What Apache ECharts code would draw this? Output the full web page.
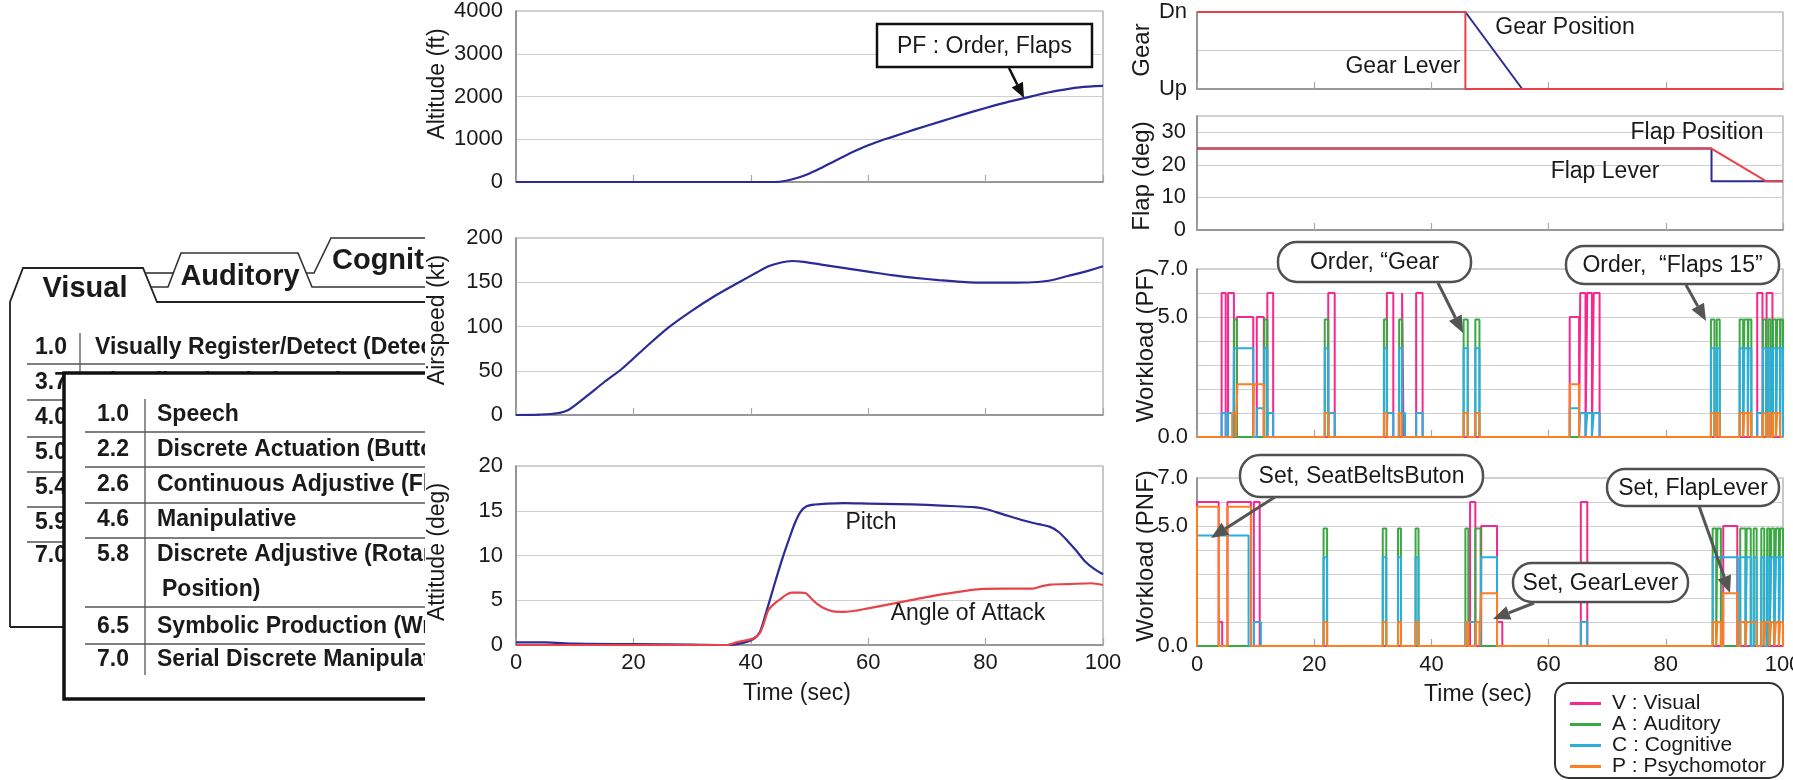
<!DOCTYPE html>
<html><head><meta charset="utf-8">
<script src="https://cdn.jsdelivr.net/npm/echarts@6/dist/echarts.min.js"></script>
<style>html,body{margin:0;padding:0;background:#fff}#c{width:1793px;height:780px}</style>
</head><body><div id="c"></div>
<script>
// ---------- data ----------
const altTime  = [0, 20, 40, 44, 46, 48, 50, 52, 54, 56, 58, 60, 62, 64, 68, 72, 76, 80, 84, 88, 92, 96, 100];
const altValue = [0, 0, 0, 0, 30, 100, 200, 330, 470, 610, 740, 860, 960, 1050, 1230, 1400, 1570, 1730, 1880, 2010, 2130, 2215, 2250];

const spdTime  = [0, 4, 7, 9, 12, 15, 18, 22, 26, 30, 34, 38, 41, 43, 45, 47, 49, 52, 56, 60, 64, 68, 72, 76, 80, 84, 88, 91, 94, 97, 100];
const spdValue = [0, 0.5, 2, 6, 21, 37, 52, 76, 99, 118, 135, 150, 161, 168, 172, 174, 173, 170, 166, 162, 158, 155, 152.5, 150.5, 149.5, 149.5, 150, 152, 157, 162, 168];

const pitchTime  = [0, 5, 10, 20, 30, 36, 39, 40.5, 41.5, 42.5, 43.5, 44.5, 45.5, 46.5, 47.5, 48.5, 49.5, 51, 53, 56, 60, 65, 70, 75, 78, 80, 83, 86, 89, 91, 92.5, 94, 95.5, 97, 98.5, 100];
const pitchValue = [0.3, 0.3, 0.15, 0.1, 0.05, 0, 0.3, 0.7, 1.4, 3.4, 5.6, 7.8, 9.9, 11.8, 13.6, 14.9, 15.5, 15.7, 15.8, 15.85, 15.8, 15.75, 15.65, 15.5, 15.4, 15.2, 14.6, 14.0, 13.5, 13.2, 12.6, 11.6, 10.5, 9.3, 8.5, 7.9];

const aoaTime  = [0, 10, 20, 30, 36, 37.5, 39, 40.5, 41.5, 42.2, 43, 44, 45, 46, 47, 48.5, 49.3, 50.3, 51.3, 52.5, 54, 56, 58, 60, 64, 68, 72, 76, 79, 83, 88, 89.5, 91, 94, 98, 100];
const aoaValue = [0, 0, 0, 0, 0, 0.3, 0.5, 0.75, 1.3, 2.4, 3.9, 4.6, 5.1, 5.6, 5.85, 5.85, 5.8, 5.2, 4.6, 4.1, 3.75, 3.7, 3.85, 4.1, 4.6, 5.1, 5.6, 6.0, 6.25, 6.3, 6.3, 6.55, 6.75, 6.8, 6.9, 6.7];

const gearLeverTime = [0, 45.8, 45.8, 100];  const gearLeverValue = [1, 1, 0, 0];
const gearPosTime   = [0, 45.8, 55.5, 100];  const gearPosValue   = [1, 1, 0, 0];
const flapLeverTime = [0, 87.8, 87.8, 100];  const flapLeverValue = [25, 25, 15, 15];
const flapPosTime   = [0, 87.8, 97.1, 100];  const flapPosValue   = [25, 25, 15, 15];

// workload pulses: [start, end, level]
const pfVisual = [[4.2,4.9,6],[5.3,6.3,6],[6.8,9.6,5],[10.2,11.4,5],[12.0,13.0,6],[22.4,23.5,6],[32.4,33.5,6],[35.0,35.25,6],[37.4,38.5,6],[63.6,65.2,5],[65.4,66.3,6],[66.6,67.4,6],[67.7,68.7,6],[95.6,96.5,6],[97.2,98.2,6]];
const pfAuditory = [[6.3,6.8,4.9],[11.5,12.0,4.9],[21.8,22.4,4.9],[31.9,32.4,4.9],[34.5,35.0,4.9],[45.5,46.2,4.9],[47.5,48.2,4.9],[87.7,88.3,4.9],[88.7,89.2,4.9],[92.6,93.2,4.9],[93.4,94.0,4.9],[94.1,94.6,4.9],[96.6,97.1,4.9],[97.5,97.9,4.9],[98.3,98.8,4.9],[99.0,99.5,4.9],[99.6,100,4.9]];
const pfCognitive = [[4.2,4.9,1],[5.3,6.2,1],[6.3,9.6,3.7],[10.2,11.4,1.2],[11.5,12.0,3.7],[12.1,13.0,1],[21.8,22.4,3.7],[22.5,23.5,1],[31.9,32.4,3.7],[32.5,33.5,1],[34.5,35.0,3.7],[35.1,35.5,1],[37.4,38.5,1],[45.5,46.2,3.7],[47.5,48.2,3.7],[63.6,65.2,1.2],[65.4,66.3,1],[66.6,67.4,1],[67.7,68.7,1],[87.7,88.3,3.7],[88.7,89.2,3.7],[92.6,93.2,3.7],[93.4,94.0,3.7],[94.1,94.6,3.7],[95.6,96.5,1],[96.6,97.1,3.7],[97.5,97.9,3.7],[98.3,98.8,3.7],[99.0,99.5,3.7],[99.6,100,3.7]];
const pfPsychomotor = [[6.0,6.6,1],[6.9,9.6,2.2],[9.7,11.4,2.2],[21.8,22.4,1],[31.9,32.4,1],[34.4,34.9,1],[45.5,46.2,1],[47.5,48.2,1],[63.6,65.2,2.2],[87.7,88.3,1],[88.7,89.2,1],[92.6,93.2,1],[93.4,94.0,1],[94.1,94.6,1],[96.6,97.1,1],[97.5,97.9,1],[98.3,98.8,1],[99.0,99.5,1]];

const pnfVisual = [[0,3.7,6],[3.7,4.3,1],[5.2,9.2,6],[9.7,10.7,6],[46.6,47.5,6],[48.5,51.2,5],[51.2,52.1,1],[65.5,66.6,6],[89.8,92.2,5]];
const pnfAuditory = [[21.6,22.2,4.9],[31.7,32.3,4.9],[34.3,34.8,4.9],[37.3,37.8,4.9],[45.8,46.3,4.9],[47.5,48.4,4.9],[88.0,88.6,4.9],[88.8,89.4,4.9],[92.7,93.6,4.9],[93.8,94.5,4.9],[95.0,95.5,4.9],[96.3,96.8,4.9],[97.3,97.7,4.9],[98.0,98.5,4.9],[98.8,99.3,4.9],[99.5,100,4.9]];
const pnfCognitive = [[0,8.8,4.6],[9.7,10.9,1],[21.6,22.2,3.7],[31.7,32.3,3.7],[34.3,34.8,3.7],[37.3,37.8,3.7],[45.8,48.4,1],[48.5,51.2,3.7],[65.5,66.6,1],[88.0,92.3,3.7],[92.7,93.6,3.7],[93.8,94.5,3.7],[95.0,95.5,3.7],[96.3,96.8,3.7],[97.3,97.7,3.7],[98.0,98.5,3.7],[98.8,99.3,3.7],[99.5,100,3.7]];
const pnfPsychomotor = [[0,3.7,5.8],[5.2,9.2,5.8],[21.6,22.2,1],[31.7,32.3,1],[34.3,34.8,1],[37.3,37.8,1],[45.9,46.3,1],[47.6,48.2,1],[48.5,51.2,2.2],[88.0,88.6,1],[88.8,89.4,1],[89.8,92.2,2.2],[92.7,93.6,1],[93.8,95.5,1],[96.3,96.8,1],[97.0,97.7,1],[98.0,98.5,1],[98.8,99.3,1],[99.5,100,1]];

const channelNames = ['V : Visual', 'A : Auditory', 'C : Cognitive', 'P : Psychomotor'];
const timeTicks = [0, 20, 40, 60, 80, 100];

const visualScale = [['1.0','Visually Register/Detect (Detect Occurrence of Image)'],['3.7','Visually Discriminate (Detect Visual Differences)'],['4.0','Visually Inspect/Check (Discrete Inspection)'],['5.0','Visually Locate/Align (Selective Orientation)'],['5.4','Visually Track/Follow (Maintain Orientation)'],['5.9','Visually Read (Symbol)'],['7.0','Visually Scan/Search/Monitor (Continuous Inspection)']];
const psychoScale = [['1.0','Speech'],['2.2','Discrete Actuation (Button, Toggle, Trigger)'],['2.6','Continuous Adjustive (Flight Control, Sensor Control)'],['4.6','Manipulative'],['5.8','Discrete Adjustive (Rotary, Vertical Thumbwheel, Lever'],['','Position)'],['6.5','Symbolic Production (Writing)'],['7.0','Serial Discrete Manipulation (Keyboard Entries)']];

// ---------- helpers ----------
const FONT = '"Liberation Sans", Arial, Helvetica, sans-serif';
const BLUE = '#2b2b98', RED = '#e8424b';
const CHAN = ['#f4288e', '#3aa843', '#2aaee0', '#fd7f23'];
const TXT = '#1a1a1a';
function zip(t, v) { return t.map((x, i) => [x, v[i]]); }
function pulses(list) {
  const pts = [[0, 0]];
  list.forEach(([s, e, v]) => { pts.push([s, 0], [s, v], [e, v], [e, 0]); });
  pts.push([100, 0]);
  return pts;
}

const grids = [
  {left: 516, top: 11, width: 587, height: 171},
  {left: 516, top: 238, width: 587, height: 177},
  {left: 516, top: 466, width: 587, height: 179},
  {left: 1197, top: 12, width: 586, height: 77},
  {left: 1197, top: 116, width: 586, height: 114},
  {left: 1197, top: 269, width: 586, height: 168},
  {left: 1197, top: 478, width: 586, height: 168}
].map(g => Object.assign({show: true, borderColor: '#a3a3a3', borderWidth: 1.2, backgroundColor: 'transparent', containLabel: false, outerBoundsMode: 'none'}, g));

function xAx(gi, showLabel, margin) {
  return {type: 'value', gridIndex: gi, min: 0, max: 100, interval: 20,
    axisLine: {show: true, onZero: false, lineStyle: {color: '#858585', width: 1.5}},
    axisTick: {show: true, inside: true, length: 7, lineStyle: {color: '#a8a8a8', width: 1.2}},
    axisLabel: {show: showLabel, fontSize: 22, color: TXT, fontFamily: FONT, margin: margin || 7,
      formatter: v => timeTicks.includes(v) ? String(v) : ''},
    splitLine: {show: false}};
}
function yAx(gi, min, max, interval, fmt, margin) {
  return {type: 'value', gridIndex: gi, min, max, interval,
    axisLine: {show: true, lineStyle: {color: '#858585', width: 1.5}},
    axisTick: {show: false},
    axisLabel: {fontSize: 22, color: TXT, fontFamily: FONT, margin, formatter: fmt},
    splitLine: {show: true, lineStyle: {color: '#cfcfcf', width: 1.2}}};
}

function line(name, xi, data, color, w, smooth) {
  return {type: 'line', name, xAxisIndex: xi, yAxisIndex: xi, data, showSymbol: false, symbol: 'none',
    smooth: smooth ? 0.3 : false, color,
    lineStyle: {color, width: w}, animation: false, silent: true};
}

const series = [
  line('Altitude', 0, zip(altTime, altValue), BLUE, 2.2, true),
  line('Airspeed', 1, zip(spdTime, spdValue), BLUE, 2.2, true),
  line('Pitch', 2, zip(pitchTime, pitchValue), BLUE, 2.2, true),
  line('Angle of Attack', 2, zip(aoaTime, aoaValue), RED, 2.2, true),
  line('Gear Position', 3, zip(gearPosTime, gearPosValue), BLUE, 2, false),
  line('Gear Lever', 3, zip(gearLeverTime, gearLeverValue), RED, 2, false),
  line('Flap Lever', 4, zip(flapLeverTime, flapLeverValue), BLUE, 2, false),
  line('Flap Position', 4, zip(flapPosTime, flapPosValue), RED, 2, false)
];
[pfVisual, pfAuditory, pfCognitive, pfPsychomotor].forEach((p, i) => series.push(line(channelNames[i], 5, pulses(p), CHAN[i], 2, false)));
[pnfVisual, pnfAuditory, pnfCognitive, pnfPsychomotor].forEach((p, i) => series.push(line(channelNames[i], 6, pulses(p), CHAN[i], 2, false)));

// ---------- graphic helpers ----------
function txt(x, y, s, size, o) {
  o = o || {};
  return {type: 'text', x, y, z: o.z != null ? o.z : 5, rotation: o.rot || 0, silent: true,
    style: {text: s, font: (o.bold ? 'bold ' : '') + size + 'px ' + FONT, fill: o.fill || TXT,
      align: o.align || 'center', verticalAlign: 'middle', textAlign: o.align || 'center', textVerticalAlign: 'middle'}};
}
function seg(x1, y1, x2, y2, w, c, z) {
  return {type: 'line', z: z, silent: true, shape: {x1, y1, x2, y2}, style: {stroke: c || '#222', lineWidth: w || 1.5}};
}
function poly(points, w, c, z) {
  return {type: 'polyline', z: z, silent: true, shape: {points}, style: {stroke: c || '#222', lineWidth: w || 1.6, fill: null}};
}
function arrow(x1, y1, x2, y2, color, w, head) {
  const a = Math.atan2(y2 - y1, x2 - x1), L = head, W = head * 0.42;
  const bx = x2 - L * Math.cos(a), by = y2 - L * Math.sin(a);
  const px = -Math.sin(a) * W, py = Math.cos(a) * W;
  return [
    {type: 'line', z: 12, silent: true, shape: {x1, y1, x2: bx, y2: by}, style: {stroke: color, lineWidth: w}},
    {type: 'polygon', z: 12, silent: true, shape: {points: [[x2, y2], [bx + px, by + py], [bx - px, by - py]]}, style: {fill: color}}
  ];
}
function callout(x, y, w, h, s, r) {
  return [
    {type: 'rect', z: 11, silent: true, shape: {x, y, width: w, height: h, r: r}, style: {fill: '#fff', stroke: r ? '#505050' : '#111', lineWidth: 2.5}},
    txt(x + w / 2, y + h / 2 + 1, s, 23, {z: 13})
  ];
}

const G = [];
// ----- left panel: back card (Visual) -----
const ZB = -5, ZF = -4;
G.push(poly([[10, 627], [10, 302], [23, 268], [143, 268], [157, 302], [425, 302]], 1.8, '#222', ZB));
G.push(seg(10, 627, 64, 627, 1.8, '#222', ZB));
// Auditory card
G.push(poly([[151, 287], [168, 287], [181, 253], [298, 253], [312, 287], [425, 287]], 1.6, '#333', ZB));
// Cognitive card
G.push(seg(146, 273, 174, 273, 1.6, '#333', ZB));
G.push(poly([[306, 273], [314, 273], [331, 238], [425, 238]], 1.6, '#333', ZB));
G.push(txt(85, 289, 'Visual', 29, {bold: true, z: ZB}));
G.push(txt(240, 277, 'Auditory', 29, {bold: true, z: ZB}));
G.push(txt(332, 261, 'Cognitive', 29, {bold: true, z: ZB, align: 'left'}));
const backY = [348, 383, 418, 453, 488, 523, 556];
visualScale.forEach((r, i) => {
  G.push(txt(35, backY[i], r[0], 23, {bold: true, z: ZB, align: 'left'}));
  G.push(txt(95, backY[i], r[1], 23, {bold: true, z: ZB, align: 'left'}));
});
[364, 400, 437, 472, 507, 542].forEach(y => G.push(seg(27, y, 425, y, 1.3, '#555', ZB)));
G.push(seg(80, 333, 80, 575, 1.3, '#555', ZB));
// front card (Psychomotor)
G.push({type: 'rect', z: ZF, silent: true, shape: {x: 64, y: 373, width: 470, height: 326}, style: {fill: '#fff', stroke: '#111', lineWidth: 3.5}});
const frontY = [415, 450, 485, 520, 555, 590, 627, 660];
psychoScale.forEach((r, i) => {
  if (r[0]) G.push(txt(97, frontY[i], r[0], 23, {bold: true, z: ZF, align: 'left'}));
  G.push(txt(r[0] ? 157 : 162, frontY[i], r[1], 23, {bold: true, z: ZF, align: 'left'}));
});
[432, 467, 503, 538, 607, 644].forEach(y => G.push(seg(85, y, 425, y, 1.3, '#555', ZF)));
G.push(seg(145, 399, 145, 675, 1.3, '#555', ZF));
// mask that clips the left panel where the chart column starts
G.push({type: 'rect', z: -1, silent: true, shape: {x: 425, y: 195, width: 760, height: 525}, style: {fill: '#fff'}});

// ----- axis titles -----
const R = Math.PI / 2;
G.push(txt(438, 84, 'Altitude (ft)', 23, {rot: R}));
G.push(txt(438, 320, 'Airspeed (kt)', 23, {rot: R}));
G.push(txt(438, 552, 'Attitude (deg)', 23, {rot: R}));
G.push(txt(1142, 50, 'Gear', 24, {rot: R}));
G.push(txt(1142, 176, 'Flap (deg)', 24, {rot: R}));
G.push(txt(1146, 345, 'Workload (PF)', 24, {rot: R}));
G.push(txt(1146, 556, 'Workload (PNF)', 24, {rot: R}));
G.push(txt(797, 694, 'Time (sec)', 23));
G.push(txt(1478, 695, 'Time (sec)', 23));

// ----- in-plot labels -----
G.push(txt(871, 523, 'Pitch', 23));
G.push(txt(968, 614, 'Angle of Attack', 23));
G.push(txt(1565, 28, 'Gear Position', 23));
G.push(txt(1403, 67, 'Gear Lever', 23));
G.push(txt(1697, 133, 'Flap Position', 23));
G.push(txt(1605, 172, 'Flap Lever', 23));

// ----- callouts -----
G.push(...callout(877, 24, 215, 43, 'PF : Order, Flaps', 0));
G.push(...arrow(1009, 68, 1024, 98, '#111', 2.5, 15));
G.push(...callout(1278, 242, 193, 40, 'Order, \u201cGear', 19));
G.push(...arrow(1438, 283, 1463, 333, '#555', 3, 17));
G.push(...callout(1566, 246, 213, 38, 'Order,  \u201cFlaps 15\u201d', 18));
G.push(...arrow(1686, 285, 1706, 321, '#555', 3, 17));
G.push(...callout(1240, 455, 243, 42, 'Set, SeatBeltsButon', 20));
G.push(...arrow(1275, 497, 1211, 538, '#555', 3, 17));
G.push(...callout(1607, 469, 172, 37, 'Set, FlapLever', 18));
G.push(...arrow(1699, 506, 1730, 593, '#555', 3, 17));
G.push(...callout(1513, 563, 175, 39, 'Set, GearLever', 19));
G.push(...arrow(1534, 603, 1493, 619, '#555', 3, 17));

// legend frame
G.push({type: 'rect', z: 4, silent: true, shape: {x: 1555, y: 683, width: 228, height: 95, r: 14}, style: {fill: '#fff', stroke: '#333', lineWidth: 2}});

const option = {
  animation: false,
  backgroundColor: '#fff',
  textStyle: {fontFamily: FONT},
  grid: grids,
  xAxis: [xAx(0, false), xAx(1, false), xAx(2, true, 7), xAx(3, false), xAx(4, false), xAx(5, false), xAx(6, true, 8)],
  yAxis: [
    yAx(0, 0, 4000, 1000, v => String(v), 13),
    yAx(1, 0, 200, 50, v => String(v), 13),
    yAx(2, 0, 20, 5, v => String(v), 13),
    yAx(3, 0, 1, 0.5, v => v === 1 ? 'Dn' : (v === 0 ? 'Up' : ''), 10),
    yAx(4, 0, 35, 10, v => v === 35 ? '' : String(v), 11),
    yAx(5, 0, 7, 1, v => (v === 0 || v === 5 || v === 7) ? v.toFixed(1) : '', 9),
    yAx(6, 0, 7, 1, v => (v === 0 || v === 5 || v === 7) ? v.toFixed(1) : '', 9)
  ],
  legend: {data: channelNames, orient: 'vertical', left: 1570, top: 693, itemGap: 0, itemWidth: 31, itemHeight: 3,
    icon: 'rect', padding: 0, selectedMode: false, z: 6,
    textStyle: {fontSize: 21, color: TXT, fontFamily: FONT, lineHeight: 20, padding: [0, 0, 0, 6]}},
  graphic: {elements: G},
  series
};
const chart = echarts.init(document.getElementById('c'), null, {renderer: 'canvas'});
chart.setOption(option);
</script></body></html>
